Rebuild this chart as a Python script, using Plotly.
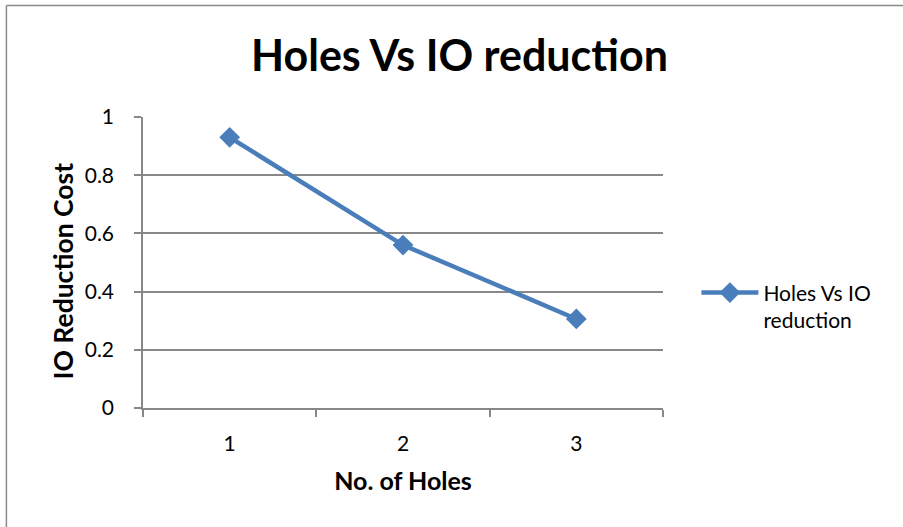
import plotly.graph_objects as go

holes = [1, 2, 3]
io_cost = [0.93, 0.56, 0.306]
series_name = "Holes Vs IO<br>reduction"
title_text = "Holes Vs IO reduction"
x_title = "No. of Holes"
y_title = "IO Reduction Cost"

FONT = "Lato, Carlito, 'Open Sans', sans-serif"
BLUE = "#4A7EBB"
GRID = "#888888"

L, R, T, B = 142.6, 662.6, 116.7, 408.3
PW, PH = R - L, B - T

fig = go.Figure()
fig.add_trace(go.Scatter(
    x=holes, y=io_cost, mode="lines+markers", name=series_name,
    line=dict(color=BLUE, width=4.5),
    marker=dict(symbol="diamond", size=16, color=BLUE),
    cliponaxis=False,
))

fig.update_layout(
    width=903, height=527,
    margin=dict(l=L, r=903 - R, t=T, b=527 - B),
    paper_bgcolor="white", plot_bgcolor="white",
    font=dict(family=FONT, color="black", size=15),
    title=dict(text="<b>" + title_text + "</b>", x=459.5 / 903, xanchor="center",
               y=1 - 56 / 527, yanchor="middle",
               font=dict(size=43, family=FONT, color="black")),
    showlegend=True,
    legend=dict(x=(696 - L) / PW, y=(408.3 - 306.5) / PH, xanchor="left", yanchor="middle",
                valign="top",
                font=dict(size=21, family=FONT), bgcolor="rgba(0,0,0,0)",
                itemwidth=57, tracegroupgap=0),
    xaxis=dict(
        range=[0.5, 3.5], tickvals=holes, ticktext=[str(h) for h in holes],
        ticks="", showgrid=False, zeroline=False,
        showline=True, linecolor=GRID, linewidth=1.5,
        tickfont=dict(size=21, family=FONT),
        ticklabelstandoff=16,
        minor=dict(ticks="outside", tick0=0.5, dtick=1, ticklen=7, tickcolor=GRID, tickwidth=1.5, showgrid=False),
        title=dict(text="<b>" + x_title + "</b>", font=dict(size=25, family=FONT), standoff=19),
        fixedrange=True,
    ),
    yaxis=dict(
        range=[0, 1], dtick=0.2, tick0=0,
        ticks="outside", ticklen=7, tickcolor=GRID, tickwidth=1.5,
        showgrid=True, gridcolor=GRID, gridwidth=1.5,
        zeroline=False, showline=True, linecolor=GRID, linewidth=1.5,
        tickfont=dict(size=21, family=FONT),
        ticklabelstandoff=16,
        fixedrange=True,
    ),
)

# y-axis title (placed slightly below the plot-area middle, as in the reference)
fig.add_annotation(text="<b>" + y_title + "</b>", textangle=-90,
                   xref="paper", yref="paper", x=(63 - L) / PW, y=(B - 271) / PH,
                   xanchor="center", yanchor="middle", showarrow=False,
                   font=dict(size=26.5, family=FONT, color="black"))

# outer chart-area border (left and top edges visible)
bx, by = 6, 5
fig.add_shape(type="line", xref="paper", yref="paper",
              x0=(bx - L) / PW, x1=(bx - L) / PW, y0=(B - by) / PH, y1=(B - 540) / PH,
              line=dict(color="#8A8A8A", width=1.5))
fig.add_shape(type="line", xref="paper", yref="paper",
              x0=(bx - L) / PW, x1=(910 - L) / PW, y0=(B - by) / PH, y1=(B - by) / PH,
              line=dict(color="#8A8A8A", width=1.5))

fig.write_html("out.html", config={"displayModeBar": False},
               post_script="document.body.style.margin='0';document.body.style.overflow='hidden';")
